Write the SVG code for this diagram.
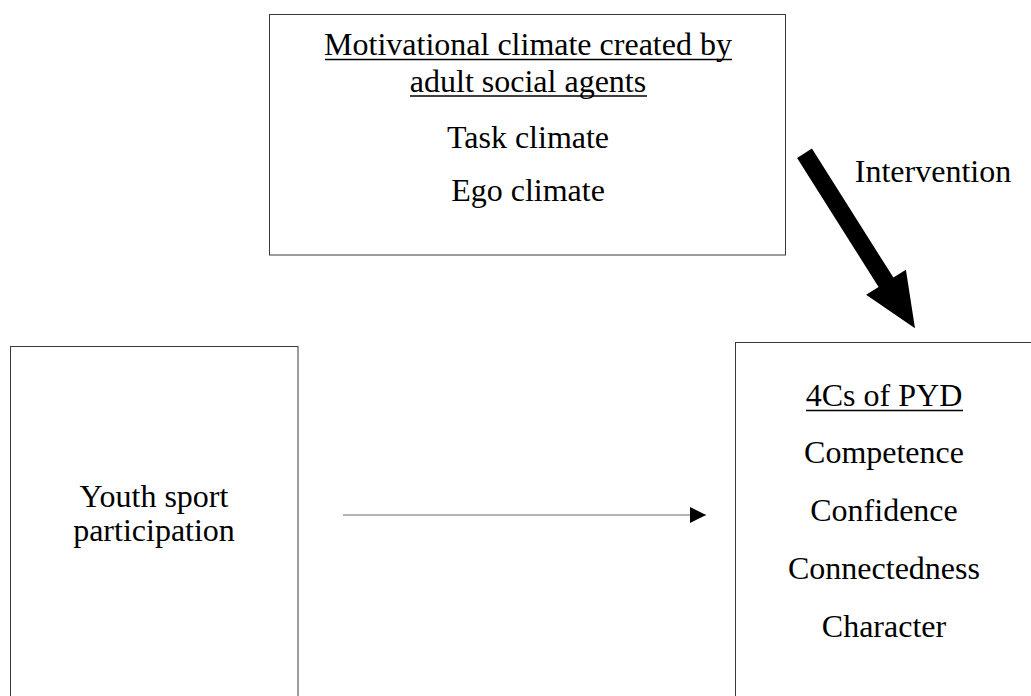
<svg xmlns="http://www.w3.org/2000/svg" width="1031" height="696" viewBox="0 0 1031 696">
  <style>
    .box { fill: #ffffff; stroke: #3a3a3a; stroke-width: 1; }
    .t { font-family: "Liberation Serif", "Times New Roman", serif; font-size: 32px; fill: #000; text-anchor: middle; }
    .ul { stroke: #000; stroke-width: 1.6; }
  </style>
  <defs>
    <marker id="ah" markerWidth="16" markerHeight="16" refX="16" refY="8" orient="auto" markerUnits="userSpaceOnUse">
      <path d="M0,0 L16,8 L0,16 Z" fill="#000"/>
    </marker>
  </defs>
  <rect width="1031" height="696" fill="#ffffff"/>

  <g id="climate">
    <rect class="box" x="269.5" y="14.5" width="516" height="240.5"/>
    <text class="t" x="528" y="55">Motivational climate created by</text>
    <line class="ul" x1="325" y1="59.5" x2="732" y2="59.5"/>
    <text class="t" x="528" y="91.5">adult social agents</text>
    <line class="ul" x1="410" y1="96" x2="647" y2="96"/>
    <text class="t" x="528" y="148">Task climate</text>
    <text class="t" x="528" y="201">Ego climate</text>
  </g>

  <g id="participation">
    <rect class="box" x="10.5" y="346.5" width="287.5" height="360"/>
    <text class="t" x="154" y="507">Youth sport</text>
    <text class="t" x="154" y="541">participation</text>
  </g>

  <g id="pyd">
    <rect class="box" x="735.5" y="342.5" width="298" height="360"/>
    <text class="t" x="884" y="406">4Cs of PYD</text>
    <line class="ul" x1="806" y1="410.5" x2="963" y2="410.5"/>
    <text class="t" x="884" y="463">Competence</text>
    <text class="t" x="884" y="521">Confidence</text>
    <text class="t" x="884" y="579">Connectedness</text>
    <text class="t" x="884" y="637">Character</text>
  </g>

  <g id="connectors">
    <line x1="343" y1="515" x2="706" y2="515" stroke="#666" stroke-width="1" marker-end="url(#ah)"/>
    <polygon points="797.1,158.0 811.9,148.6 893.4,277.6 905.9,269.8 915,328.3 866.1,294.8 878.6,287.0" fill="#000"/>
    <text class="t" x="933" y="182">Intervention</text>
  </g>
</svg>
